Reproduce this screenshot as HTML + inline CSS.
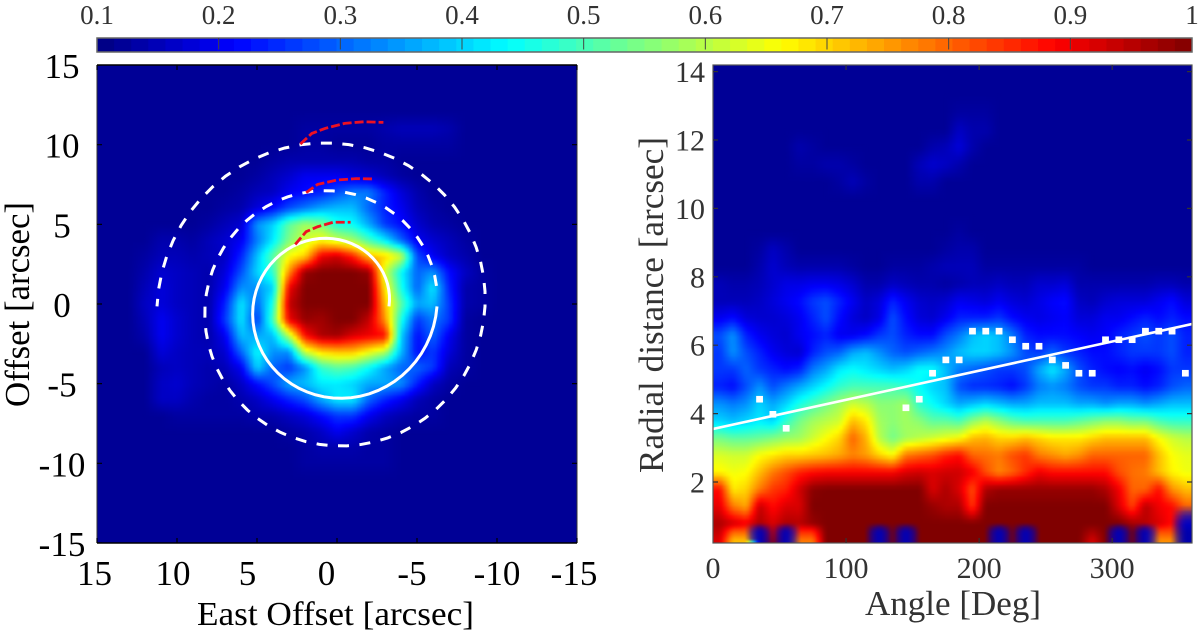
<!DOCTYPE html>
<html lang="en">
<head>
<meta charset="utf-8">
<title>Spiral shell maps</title>
<style>
html,body{margin:0;padding:0;background:#fff;width:1200px;height:638px;overflow:hidden}
svg{display:block}
text{font-family:"Liberation Serif",serif}
</style>
</head>
<body>
<svg id="fig" xmlns="http://www.w3.org/2000/svg" width="1200" height="638" viewBox="0 0 1200 638">
  <defs>
    <filter id="soften" x="-2%" y="-2%" width="104%" height="104%" color-interpolation-filters="sRGB"><feGaussianBlur stdDeviation="1.3"/></filter>
    <clipPath id="clip-left"><rect x="97" y="65" width="480" height="478"/></clipPath>
    <clipPath id="clip-right"><rect x="713" y="65" width="479" height="478"/></clipPath>
  </defs>
  <rect width="1200" height="638" fill="#fff"/>
  <g id="colorbar"></g>
  <g id="left-panel"></g>
  <g id="right-panel"></g>
</svg>
<script>
/* ---------- colour bar ---------- */
const colorbarTicks = [0.1,0.2,0.3,0.4,0.5,0.6,0.7,0.8,0.9,1];
const colorbarLabels = ["0.1","0.2","0.3","0.4","0.5","0.6","0.7","0.8","0.9","1"];

/* ---------- left panel: sky map (values x100) ---------- */
const skyEastOffsets = [15,14,13,12,11,10,9,8,7,6,5,4,3,2,1,0,-1,-2,-3,-4,-5,-6,-7,-8,-9,-10,-11,-12,-13,-14,-15];
const skyNorthOffsets = [15,14,13,12,11,10,9,8,7,6,5,4,3,2,1,0,-1,-2,-3,-4,-5,-6,-7,-8,-9,-10,-11,-12,-13,-14,-15];
const skyValues = [
[12,12,12,12,12,12,12,12,12,12,12,12,12,12,12,12,12,12,12,12,12,12,12,12,12,12,12,12,12,12,12],
[12,12,12,12,12,12,12,12,12,12,12,12,12,12,12,12,12,12,12,12,12,12,12,12,12,12,12,12,12,12,12],
[12,12,12,12,12,12,12,12,12,12,12,12,12,12,12,12,12,12,12,12,12,12,12,12,12,12,12,12,12,12,12],
[12,12,12,12,12,12,12,12,12,12,12,12,12,12,12,12,12,12,12,12,12,12,12,12,12,12,12,12,12,12,12],
[12,12,12,12,12,12,12,12,12,12,12,12,12,13,13,13,13,13,14,15,15,15,14,12,12,12,12,12,12,12,12],
[12,12,12,12,12,12,12,12,12,12,12,12,12,13,13,12,12,12,13,13,13,13,13,12,12,12,12,12,12,12,12],
[12,12,12,12,12,12,12,12,12,12,12,13,14,14,14,14,14,13,13,12,12,12,12,12,12,12,12,12,12,12,12],
[12,12,12,12,12,12,12,12,12,12,13,15,17,20,20,20,18,17,15,13,12,12,12,12,12,12,12,12,12,12,12],
[12,12,12,12,12,12,12,12,12,13,15,16,20,22,24,28,32,32,24,18,14,12,12,12,12,12,12,12,12,12,12],
[12,12,12,12,12,12,12,12,13,14,18,22,28,32,36,38,38,30,24,20,15,13,12,12,12,12,12,12,12,12,12],
[12,12,12,12,12,12,12,13,15,17,34,40,52,58,55,46,44,36,26,22,17,14,13,12,12,12,12,12,12,12,12],
[12,12,12,12,14,14,13,15,17,20,32,42,55,62,66,62,58,50,42,30,20,17,15,13,12,12,12,12,12,12,12],
[12,12,12,13,15,15,14,15,16,24,38,52,66,70,90,93,86,72,70,62,28,20,16,14,12,12,12,12,12,12,12],
[12,12,12,14,17,16,15,14,18,28,40,48,76,98,100,100,100,98,62,44,30,34,22,16,13,12,12,12,12,12,12],
[12,12,12,15,18,16,15,14,20,34,34,40,90,100,100,100,100,100,68,46,30,42,24,14,13,12,12,12,12,12,12],
[12,12,12,16,18,16,15,14,24,42,30,46,94,100,100,100,100,100,72,52,36,38,26,14,13,12,12,12,12,12,12],
[12,12,12,15,20,17,15,14,26,42,26,50,90,98,97,100,100,94,76,46,26,32,26,13,12,12,12,12,12,12,12],
[12,12,12,14,20,17,15,14,20,38,36,38,60,88,96,97,92,90,88,40,22,30,20,13,12,12,12,12,12,12,12],
[12,12,12,12,18,16,15,15,17,30,44,34,34,62,70,72,72,66,60,38,22,26,18,13,12,12,12,12,12,12,12],
[12,12,12,12,15,16,15,14,15,20,40,30,26,34,48,52,50,44,36,30,30,26,15,13,12,12,12,12,12,12,12],
[12,12,12,12,16,17,15,14,13,16,22,28,36,38,42,42,40,36,36,34,24,16,13,12,12,12,12,12,12,12,12],
[12,12,12,12,16,16,14,13,13,14,16,20,24,28,36,42,42,30,24,20,15,13,12,12,12,12,12,12,12,12,12],
[12,12,12,12,12,13,13,13,13,13,14,14,16,18,22,26,26,20,16,14,13,13,12,12,12,12,12,12,12,12,12],
[12,12,12,12,12,12,12,12,12,12,12,12,13,14,16,20,17,14,13,12,12,12,12,12,12,12,12,12,12,12,12],
[12,12,12,12,12,12,12,12,12,12,12,12,12,13,14,14,14,13,13,12,12,12,12,12,12,12,12,12,12,12,12],
[12,12,12,12,12,12,12,12,12,12,12,12,12,13,13,13,13,13,13,12,12,12,12,12,12,12,12,12,12,12,12],
[12,12,12,12,12,12,12,12,12,12,12,12,12,12,12,12,12,12,12,12,12,12,12,12,12,12,12,12,12,12,12],
[12,12,12,12,12,12,12,12,12,12,12,12,12,12,12,12,12,12,12,12,12,12,12,12,12,12,12,12,12,12,12],
[12,12,12,12,12,12,12,12,12,12,12,12,12,12,12,12,12,12,12,12,12,12,12,12,12,12,12,12,12,12,12],
[12,12,12,12,12,12,12,12,12,12,12,12,12,12,12,12,12,12,12,12,12,12,12,12,12,12,12,12,12,12,12],
[12,12,12,12,12,12,12,12,12,12,12,12,12,12,12,12,12,12,12,12,12,12,12,12,12,12,12,12,12,12,12]
];
const skyXTicks = [15,10,5,0,-5,-10,-15];
const skyYTicks = [15,10,5,0,-5,-10,-15];

/* spiral: winding angle (deg) and radius (arcsec) */
const spiralAngles = [0,90,180,270,360,450,540,630,720,810,900];
const spiralRadii = [3.5,4.25,5,5.75,6.5,7.25,8,8.75,9.5,10.25,11];
const spiralCentreEast = 0.25;
const spiralCentreNorth = -0.15;
const spiralSolidEnd = 360;

/* red dashed arms (east, north offsets in arcsec) */
const redArmInnerEast = [2.61,1.93,1.21,0.24,-0.85];
const redArmInnerNorth = [3.74,4.54,4.85,5.13,5.13];
const redArmMiddleEast = [1.93,1.21,0,-1.21,-2.29];
const redArmMiddleNorth = [6.99,7.51,7.78,7.87,7.85];
const redArmOuterEast = [2.29,1.57,0.72,-0.48,-1.69,-2.9];
const redArmOuterNorth = [10.04,10.71,11.03,11.34,11.44,11.4];

/* ---------- right panel: polar map (values x100) ---------- */
const angleBins = [5,15,25,35,45,55,65,75,85,95,105,115,125,135,145,155,165,175,185,195,205,215,225,235,245,255,265,275,285,295,305,315,325,335,345,355];
const radialBins = [0.3,0.55,0.8,1.3,1.8,2.3,2.8,3.3,3.8,4.3,4.8,5.3,5.8,6.3,6.8,7.3,7.8,8.3,8.8,9.3,9.8,10.3,10.8,11.3,11.8,12.3,12.8,13.3,13.8,14.3];
const polarValues = [
[92,72,72,15,97,15,78,78,100,100,100,100,15,100,15,100,100,100,100,100,100,15,100,15,100,100,100,100,92,100,15,100,15,76,76,14],
[94,80,80,15,94,15,85,85,100,100,100,100,15,100,15,100,100,100,100,100,100,15,100,15,100,100,100,100,96,100,15,100,15,82,82,14],
[96,93,90,96,92,96,95,98,100,100,100,100,100,100,100,100,100,100,100,100,100,100,100,100,100,100,100,100,100,100,100,97,95,92,88,16],
[91,78,74,94,88,92,92,100,100,100,100,100,100,100,100,100,98,96,96,84,100,100,100,100,100,100,100,100,100,100,92,83,95,90,88,80],
[88,68,70,78,84,86,93,99,100,100,100,100,100,100,100,100,92,96,92,82,96,98,98,98,98,98,98,98,98,96,90,80,80,88,76,72],
[67,65,66,72,78,82,86,88,89,89,89,89,89,89,92,93,92,93,93,90,82,77,80,85,90,88,88,88,88,88,82,79,78,72,67,65],
[63,62,62,66,68,70,70,71,72,74,77,75,70,66,78,80,82,86,88,80,79,78,82,84,78,76,74,76,80,80,80,80,80,72,66,64],
[54,52,52,53,55,57,58,62,66,70,80,73,60,54,58,60,62,64,66,72,73,70,70,72,70,68,68,68,70,72,72,72,72,66,62,60],
[40,38,40,42,40,48,54,58,60,62,72,68,58,56,58,56,52,52,50,56,60,56,52,50,50,50,50,52,54,56,56,54,54,50,48,48],
[34,32,34,40,36,40,46,50,54,58,62,60,56,56,58,48,44,40,36,38,40,38,36,36,38,38,38,36,36,34,36,36,34,36,38,38],
[24,22,28,34,28,32,36,40,44,48,50,50,50,50,48,44,40,38,28,25,25,24,22,26,32,34,32,28,26,26,24,24,22,24,28,30],
[26,26,30,26,24,22,24,32,36,42,44,42,40,38,40,44,44,38,32,30,28,26,26,28,36,42,36,28,24,22,21,22,20,22,26,26],
[26,34,28,24,20,18,17,24,28,30,36,38,34,30,28,30,32,34,38,40,40,38,34,28,26,30,26,24,22,22,24,26,26,26,28,24],
[28,34,24,20,18,17,20,22,24,20,20,22,26,28,24,22,22,28,32,38,40,38,32,24,22,22,22,21,20,21,24,26,28,26,28,24],
[20,22,18,17,17,18,20,24,28,22,18,16,19,28,22,18,17,20,24,24,24,26,22,20,19,20,21,18,18,20,20,22,24,22,24,22],
[15,15,15,16,18,20,22,26,28,24,20,16,18,24,20,17,16,17,20,19,18,20,18,17,19,21,22,16,15,17,18,18,18,20,22,18],
[15,14,14,15,17,19,19,20,20,19,17,14,14,16,15,14,14,13,14,15,15,16,15,15,17,17,18,14,14,14,14,14,14,15,15,14],
[12,12,12,14,17,15,14,14,14,14,13,12,12,13,13,13,14,15,15,15,13,13,13,13,13,13,13,13,12,12,12,12,12,12,12,12],
[12,12,12,13,16,14,12,12,12,12,12,12,12,12,12,12,12,13,14,14,12,12,12,12,12,12,12,12,12,12,12,12,12,12,12,12],
[12,12,12,12,12,12,12,12,12,12,12,12,12,12,12,12,12,12,13,12,12,12,12,12,12,12,12,12,12,12,12,12,12,12,12,12],
[12,12,12,12,12,12,12,12,12,12,12,12,12,12,12,12,12,12,12,12,12,12,12,12,12,12,12,12,12,12,12,12,12,12,12,12],
[12,12,12,12,12,12,12,12,12,12,12,12,12,12,12,12,12,12,12,12,12,12,12,12,12,12,12,12,12,12,12,12,12,12,12,12],
[12,12,12,12,12,12,12,12,12,13,15,13,12,12,12,14,14,12,12,12,12,12,12,12,12,12,12,12,12,12,12,12,12,12,12,12],
[12,12,12,12,12,12,13,13,14,14,13,12,12,12,12,15,17,16,14,12,12,12,12,12,12,12,12,12,12,12,12,12,12,12,12,12],
[12,12,12,12,12,12,14,13,12,12,12,12,12,12,12,12,14,15,18,14,12,12,12,12,12,12,12,12,12,12,12,12,12,12,12,12],
[12,12,12,12,12,12,12,12,12,12,12,12,12,12,12,12,12,12,16,14,14,12,12,12,12,12,12,12,12,12,12,12,12,12,12,12],
[12,12,12,12,12,12,12,12,12,12,12,12,12,12,12,12,12,12,13,13,13,12,12,12,12,12,12,12,12,12,12,12,12,12,12,12],
[12,12,12,12,12,12,12,12,12,12,12,12,12,12,12,12,12,12,12,12,12,12,12,12,12,12,12,12,12,12,12,12,12,12,12,12],
[12,12,12,12,12,12,12,12,12,12,12,12,12,12,12,12,12,12,12,12,12,12,12,12,12,12,12,12,12,12,12,12,12,12,12,12],
[12,12,12,12,12,12,12,12,12,12,12,12,12,12,12,12,12,12,12,12,12,12,12,12,12,12,12,12,12,12,12,12,12,12,12,12]
];
const angleTicks = [0,100,200,300];
const radiusTicks = [2,4,6,8,10,12,14];

/* white squares: radius of the shell peak at each angle */
const peakAngles = [35,45,55,145,155,165,175,185,195,205,215,225,235,245,255,265,275,285,295,305,315,325,335,345,355];
const peakRadii = [4.42,3.98,3.57,4.17,4.42,5.18,5.57,5.57,6.41,6.41,6.41,6.16,5.97,5.97,5.57,5.41,5.18,5.18,6.16,6.16,6.16,6.41,6.41,6.41,5.18];

/* white fit line: angle and radius at its two ends */
const fitAngles = [0,360];
const fitRadii = [3.55,6.62];

/* ---------- scales ---------- */
const NS = "http://www.w3.org/2000/svg";
const cbarX = v => 97 + (v - 0.1) / 0.9 * 1095;
const skyX = e => 337 - 16 * e;
const skyY = n => 304 - 15.93 * n;
const polarX = a => 713 + 1.3306 * a;
const polarY = r => 482 - 34.2 * (r - 2);

function jetRGB(v) {
  const t = Math.max(0, Math.min(1, (v - 0.1) / 0.9));
  const r = Math.max(0, Math.min(1, Math.min(4 * t - 1.5, -4 * t + 4.5)));
  const g = Math.max(0, Math.min(1, Math.min(4 * t - 0.5, -4 * t + 3.5)));
  const b = Math.max(0, Math.min(1, Math.min(4 * t + 0.5, -4 * t + 2.5)));
  return [r * 255, g * 255, b * 255];
}
function css(c) {
  return "rgb(" + Math.round(c[0]) + "," + Math.round(c[1]) + "," + Math.round(c[2]) + ")";
}
function jet(v) {
  return css(jetRGB(v));
}

function make(tag, attrs, parent) {
  const el = document.createElementNS(NS, tag);
  for (const k in attrs) el.setAttribute(k, attrs[k]);
  parent.appendChild(el);
  return el;
}

/* draws a smooth heatmap from a value grid through the supplied axis functions.
   Very steep cells (isolated holes) are blended in colour, favouring the low corners. */
function drawHeatmap(parent, xs, ys, values, xAxis, yAxis, subdiv, cellName) {
  const dxEnd = xs[1] - xs[0], dyEnd = ys[1] - ys[0];
  const gx = [xs[0] - dxEnd].concat(xs, [xs[xs.length - 1] + dxEnd]);
  const gy = [ys[0] - dyEnd].concat(ys, [ys[ys.length - 1] + dyEnd]);
  const at = (j, i) => {
    const jj = Math.max(0, Math.min(ys.length - 1, j - 1));
    const ii = Math.max(0, Math.min(xs.length - 1, i - 1));
    return values[jj][ii] / 100;
  };
  for (let j = 0; j < gy.length - 1; j++) {
    for (let i = 0; i < gx.length - 1; i++) {
      const a = at(j, i), b = at(j, i + 1), c = at(j + 1, i), d = at(j + 1, i + 1);
      const hi = Math.max(a, b, c, d), lo = Math.min(a, b, c, d);
      if (hi <= 0.12) continue;
      const steep = hi - lo > 0.6 && lo < 0.2;
      const ca = jetRGB(a), cb = jetRGB(b), cc = jetRGB(c), cd = jetRGB(d);
      const boost = v => (v < 0.3 ? 2.5 : 1);
      for (let sj = 0; sj < subdiv; sj++) {
        for (let si = 0; si < subdiv; si++) {
          const u = (si + 0.5) / subdiv, w = (sj + 0.5) / subdiv;
          let fill;
          if (steep) {
            const wa = (1 - u) * (1 - w) * boost(a), wb = u * (1 - w) * boost(b);
            const wc = (1 - u) * w * boost(c), wd = u * w * boost(d);
            const sum = wa + wb + wc + wd;
            fill = css([0, 1, 2].map(n => (ca[n] * wa + cb[n] * wb + cc[n] * wc + cd[n] * wd) / sum));
          } else {
            fill = jet((a * (1 - u) + b * u) * (1 - w) + (c * (1 - u) + d * u) * w);
          }
          const x0 = xAxis(gx[i] + (gx[i + 1] - gx[i]) * si / subdiv);
          const x1 = xAxis(gx[i] + (gx[i + 1] - gx[i]) * (si + 1) / subdiv);
          const y0 = yAxis(gy[j] + (gy[j + 1] - gy[j]) * sj / subdiv);
          const y1 = yAxis(gy[j] + (gy[j + 1] - gy[j]) * (sj + 1) / subdiv);
          const cell = make("rect", {
            x: Math.min(x0, x1).toFixed(2), y: Math.min(y0, y1).toFixed(2),
            width: (Math.abs(x1 - x0) + 0.5).toFixed(2), height: (Math.abs(y1 - y0) + 0.5).toFixed(2),
            fill: fill
          }, parent);
          
          
        }
      }
    }
  }
}

function pathFrom(pts) {
  return pts.map((p, i) => (i ? "L" : "M") + p[0].toFixed(2) + " " + p[1].toFixed(2)).join("");
}

/* ---------- colour bar ---------- */
const cbarGroup = document.getElementById("colorbar");
for (let s = 0; s < 64; s++) {
  const v0 = 0.1 + 0.9 * s / 64, v1 = 0.1 + 0.9 * (s + 1) / 64;
  const seg = make("rect", {x: cbarX(v0).toFixed(2), y: 38, width: (cbarX(v1) - cbarX(v0) + 0.5).toFixed(2), height: 14, fill: jet((v0 + v1) / 2)}, cbarGroup);
  
  
}
const cbarFrame = make("rect", {x: 97, y: 38, width: 1095, height: 14, fill: "none", stroke: "#666", "stroke-width": 1.5}, cbarGroup);


colorbarTicks.forEach((v, i) => {
  if (i > 0 && i < colorbarTicks.length - 1) {
    const t = make("line", {x1: cbarX(v), x2: cbarX(v), y1: 38, y2: 49.5, stroke: "#444", "stroke-width": 1}, cbarGroup);
    
    
  }
  const lab = make("text", {x: cbarX(v), y: 24, "font-size": 27, "text-anchor": "middle", fill: "#333"}, cbarGroup);
  lab.textContent = colorbarLabels[i];
  
  
});

/* ---------- left panel ---------- */
const leftPanel = document.getElementById("left-panel");
const leftPlot = make("g", {"clip-path": "url(#clip-left)"}, leftPanel);


const leftBg = make("rect", {x: 97, y: 65, width: 480, height: 478, fill: jet(0.12)}, leftPlot);


const leftHeat = make("g", {filter: "url(#soften)"}, leftPlot);


drawHeatmap(leftHeat, skyEastOffsets, skyNorthOffsets, skyValues, skyX, skyY, 4, 'sky-map-cell');

function spiralPoints(fromDeg, toDeg) {
  const pts = [];
  for (let k = 0; k < spiralAngles.length - 1; k++) {
    const a0 = spiralAngles[k], a1 = spiralAngles[k + 1];
    for (let d = 0; d <= 16; d++) {
      const ang = a0 + (a1 - a0) * d / 16;
      if (ang < fromDeg || ang > toDeg) continue;
      const rad = spiralRadii[k] + (spiralRadii[k + 1] - spiralRadii[k]) * d / 16;
      const th = ang * Math.PI / 180;
      pts.push([skyX(spiralCentreEast - rad * Math.cos(th)), skyY(spiralCentreNorth + rad * Math.sin(th))]);
    }
  }
  return pts;
}
const spiralSolid = make("path", {d: pathFrom(spiralPoints(0, spiralSolidEnd)), fill: "none", stroke: "#fff", "stroke-width": 3}, leftPlot);


const spiralDashed = make("path", {d: pathFrom(spiralPoints(spiralSolidEnd + 6, 900)), fill: "none", stroke: "#fff", "stroke-width": 3, "stroke-dasharray": "11 10.5"}, leftPlot);



[[redArmInnerEast, redArmInnerNorth, 'red-arm-inner'], [redArmMiddleEast, redArmMiddleNorth, 'red-arm-middle'], [redArmOuterEast, redArmOuterNorth, 'red-arm-outer']].forEach(arm => {
  const pts = arm[0].map((e, i) => [skyX(e), skyY(arm[1][i])]);
  const p = make("path", {d: pathFrom(pts), fill: "none", stroke: "#ee1122", "stroke-width": 2.8, "stroke-dasharray": "9 3"}, leftPlot);
  
  
});

const leftFrame = make("path", {d: "M97 65H577M97 543H577", stroke: "#000", "stroke-width": 1.6, fill: "none"}, leftPanel);


const leftFrameV = make("path", {d: "M97 65V543M577 65V543", stroke: "#333", "stroke-width": 1, fill: "none"}, leftPanel);



const skyXNudge = [-2.5,-4,-9.5,-10.5,-5,0,-3];
skyXTicks.forEach((t, i) => {
  const tick = make("path", {d: "M" + skyX(t) + " 65v5M" + skyX(t) + " 543v-5", stroke: "#000", "stroke-width": 1.2}, leftPanel);
  
  
  const lab = make("text", {x: skyX(t) + skyXNudge[i], y: 585, "font-size": 35, "text-anchor": "middle", fill: "#000"}, leftPanel);
  lab.textContent = String(t);
  
  
});
skyYTicks.forEach(t => {
  const tick = make("path", {d: "M97 " + skyY(t) + "h5M577 " + skyY(t) + "h-5", stroke: "#000", "stroke-width": 1.2}, leftPanel);
  
  
  const lab = make("text", {x: 62, y: skyY(t) + 13, "font-size": 35, "text-anchor": "middle", fill: "#000"}, leftPanel);
  lab.textContent = String(t);
  
  
});
const leftXTitle = make("text", {x: 197, y: 625, "font-size": 34, textLength: 277, lengthAdjust: "spacingAndGlyphs", fill: "#000"}, leftPanel);
leftXTitle.textContent = "East Offset [arcsec]";


const leftYTitle = make("text", {transform: "translate(29 407) rotate(-90)", "font-size": 35, textLength: 205, lengthAdjust: "spacingAndGlyphs", fill: "#000"}, leftPanel);
leftYTitle.textContent = "Offset [arcsec]";



/* ---------- right panel ---------- */
const rightPanel = document.getElementById("right-panel");
const rightPlot = make("g", {"clip-path": "url(#clip-right)"}, rightPanel);


const rightBg = make("rect", {x: 713, y: 65, width: 479, height: 478, fill: jet(0.12)}, rightPlot);


const rightHeat = make("g", {filter: "url(#soften)"}, rightPlot);


drawHeatmap(rightHeat, angleBins, radialBins, polarValues, polarX, polarY, 4, 'polar-map-cell');

const fitLine = make("line", {x1: polarX(fitAngles[0]), y1: polarY(fitRadii[0]), x2: polarX(fitAngles[1]), y2: polarY(fitRadii[1]), stroke: "#fff", "stroke-width": 2.6}, rightPlot);


peakAngles.forEach((a, i) => {
  const m = make("rect", {x: polarX(a) - 3.4, y: polarY(peakRadii[i]) - 3.3, width: 6.8, height: 6.6, fill: "#fff"}, rightPlot);
  
  
});

const rightFrame = make("rect", {x: 713, y: 65, width: 479, height: 478, fill: "none", stroke: "#555", "stroke-width": 1.2}, rightPanel);



angleTicks.forEach(t => {
  if (t > 0) {
    const tick = make("path", {d: "M" + polarX(t) + " 65v5M" + polarX(t) + " 543v-5", stroke: "#333", "stroke-width": 1.2}, rightPanel);
    
    
  }
  const lab = make("text", {x: polarX(t), y: 578, "font-size": 30, "text-anchor": "middle", fill: "#333"}, rightPanel);
  lab.textContent = String(t);
  
  
});
radiusTicks.forEach(t => {
  const tick = make("path", {d: "M713 " + polarY(t) + "h5M1192 " + polarY(t) + "h-5", stroke: "#333", "stroke-width": 1.2}, rightPanel);
  
  
  const lab = make("text", {x: 705, y: polarY(t) + 10.5, "font-size": 30, "text-anchor": "end", fill: "#333"}, rightPanel);
  lab.textContent = String(t);
  
  
});
const rightXTitle = make("text", {x: 865, y: 615, "font-size": 35, textLength: 176, lengthAdjust: "spacingAndGlyphs", fill: "#333"}, rightPanel);
rightXTitle.textContent = "Angle [Deg]";


const rightYTitle = make("text", {transform: "translate(663 473) rotate(-90)", "font-size": 35, textLength: 336, lengthAdjust: "spacingAndGlyphs", fill: "#333"}, rightPanel);
rightYTitle.textContent = "Radial distance [arcsec]";


</script>
</body>
</html>
